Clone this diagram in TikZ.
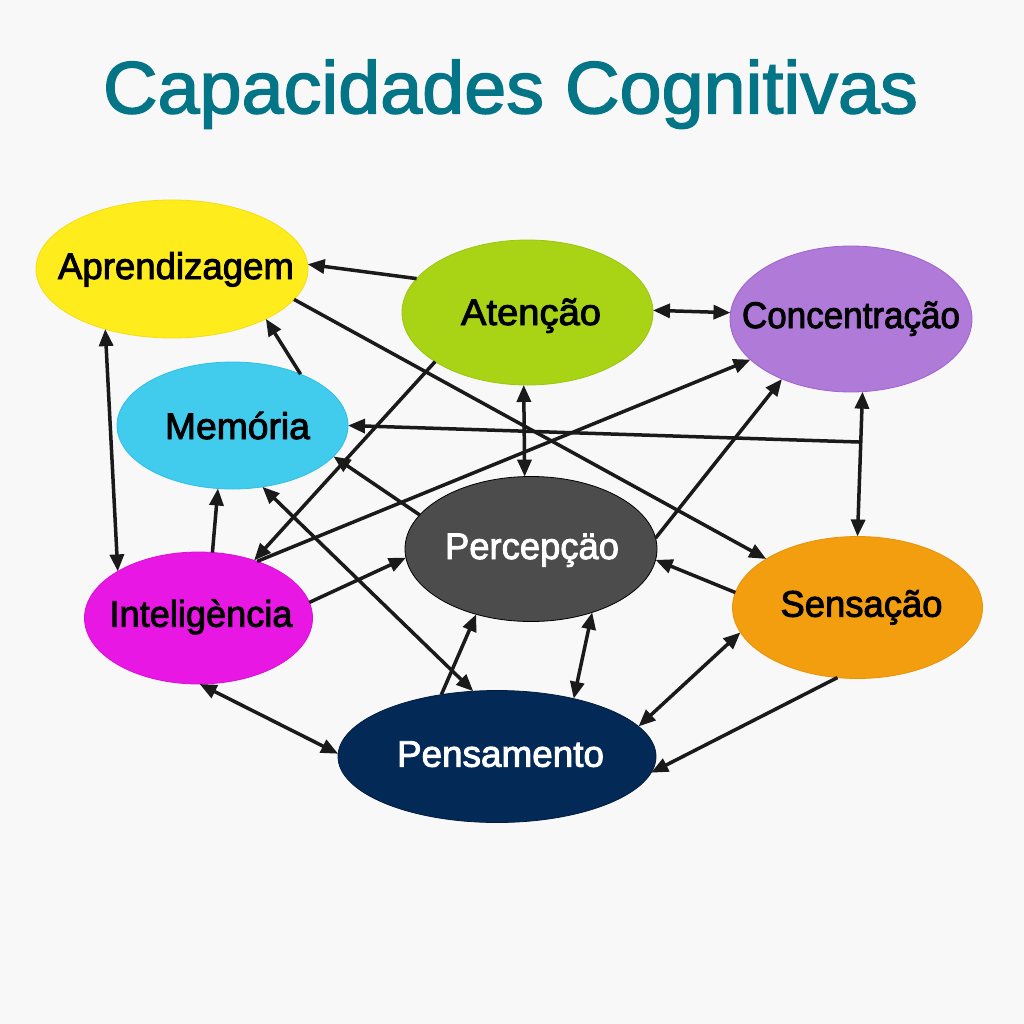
\documentclass[tikz,border=0pt]{standalone}
\usepackage{fontspec}
\setmainfont{Liberation Sans}
\newfontfamily\labfont[FakeBold=2.5]{Liberation Sans}
\newfontfamily\titlefont[FakeBold=2]{Liberation Sans}
\usepackage{graphicx}
\usetikzlibrary{shapes.geometric,arrows.meta,calc}
\definecolor{bgc}{HTML}{F8F8F8}
\definecolor{titlec}{HTML}{047586}
\definecolor{aprc}{HTML}{FFEC1C}
\definecolor{aprd}{HTML}{F2DE12}
\definecolor{atec}{HTML}{A9D415}
\definecolor{ated}{HTML}{9CC410}
\definecolor{conc}{HTML}{B07AD8}
\definecolor{cond}{HTML}{9E62CE}
\definecolor{memc}{HTML}{41CCEE}
\definecolor{memd}{HTML}{2FBFE4}
\definecolor{perc}{HTML}{4C4C4C}
\definecolor{intc}{HTML}{E817E3}
\definecolor{intd}{HTML}{D90FD4}
\definecolor{senc}{HTML}{F29E0E}
\definecolor{send}{HTML}{E8920A}
\definecolor{penc}{HTML}{032A57}
\definecolor{pend}{HTML}{021C3E}
\definecolor{arrc}{HTML}{1A1A1A}
\newsavebox\fitbox
\newcommand\fitto[2]{\sbox\fitbox{#2}\pgfmathsetmacro\fitsx{#1/\the\wd\fitbox}\scalebox{\fitsx}[1]{\usebox\fitbox}}
\tikzset{
  ell/.style={ellipse, inner sep=0pt, outer sep=0pt, line width=0.8pt},
  lab/.style={inner sep=0pt, anchor=base, font=\labfont\fontsize{37}{40}\selectfont},
  arr/.style={line width=3.5pt, draw=arrc, >={Triangle[length=17pt,width=14pt]}},
}
\begin{document}
\begin{tikzpicture}[x=1pt,y=-1pt]
\useasboundingbox (0,0) rectangle (1024,1024);
\fill[bgc] (0,0) rectangle (1024,1024);
\node[inner sep=0pt, anchor=base, text=titlec, font=\titlefont\fontsize{74}{80}\selectfont] (title) at (510.5,113.3) {\fitto{815}{Capacidades Cognitivas}};
% ellipses
\node[ell, fill=aprc, draw=aprd, minimum width=272pt, minimum height=138pt] (apr) at (172,269) {};
\node[ell, fill=atec, draw=ated, minimum width=251pt, minimum height=145pt] (ate) at (527.5,312.5) {};
\node[ell, fill=conc, draw=cond, minimum width=242pt, minimum height=146pt] (con) at (851,319) {};
\node[ell, fill=memc, draw=memd, minimum width=231pt, minimum height=127pt] (mem) at (232.5,425.5) {};
\node[ell, fill=perc, draw=black, minimum width=252pt, minimum height=145pt] (per) at (531,549) {};
\node[ell, fill=intc, draw=intd, minimum width=228pt, minimum height=132pt] (int) at (198.5,618) {};
\node[ell, fill=senc, draw=send, minimum width=250pt, minimum height=142pt] (sen) at (857.5,607.5) {};
\node[ell, fill=penc, draw=pend, minimum width=318pt, minimum height=132pt] (pen) at (497,756.5) {};
% connectors
\draw[arr,->] (ate.163) -- (apr.2);
\draw[arr,->] (apr.-14) -- (sen.152);
\draw[arr,->] (mem.37) -- (apr.-28);
\draw[arr,<->] (apr.222) -- (int.150);
\draw[arr,<->] (ate.1) -- (con.177);
\draw[arr,<->] (ate.-93) -- (per.95);
\draw[arr,<->] (con.-81) -- (sen.90);
\coordinate (br) at ($(con.-81)!0.348!(sen.90)$);
\draw[arr,->] (br) -- (mem.0);
\draw[arr,->] (ate.208) -- (int.46);
\draw[arr,->] (int.44) -- (con.202);
\draw[arr,->] (int.78) -- (mem.-103);
\draw[arr,->] (int.8) -- (per.184);
\draw[arr,->] (per.163) -- (mem.-17);
\draw[arr,<->] (mem.-64) -- (pen.110);
\draw[arr,->] (per.5) -- (con.221);
\draw[arr,->] (sen.173) -- (per.-5);
\draw[arr,->] (pen.132) -- (per.230);
\draw[arr,<->] (pen.37) -- (per.-46);
\draw[arr,<->] (pen.12) -- (sen.192);
\draw[arr,->] (sen.254) -- (pen.-6);
\draw[arr,<->] (int.271) -- (pen.179);
% labels
\node[lab, text=black] (aprT) at (176,279) {\fitto{236}{Aprendizagem}};
\node[lab, text=black] (ateT) at (531,325) {\fitto{140}{Atenção}};
\node[lab, text=black] (conT) at (851,328) {\fitto{218}{Concentração}};
\node[lab, text=black] (memT) at (237.5,439) {\fitto{145}{Memória}};
\node[lab, text=white] (perT) at (532,559) {\fitto{174}{Percepçäo}};
\node[lab, text=black] (intT) at (201,626.7) {\fitto{183}{Inteligència}};
\node[lab, text=black] (senT) at (861.5,616.7) {\fitto{162}{Sensação}};
\node[lab, text=white] (penT) at (500.5,766.7) {\fitto{207}{Pensamento}};
\end{tikzpicture}
\end{document}
